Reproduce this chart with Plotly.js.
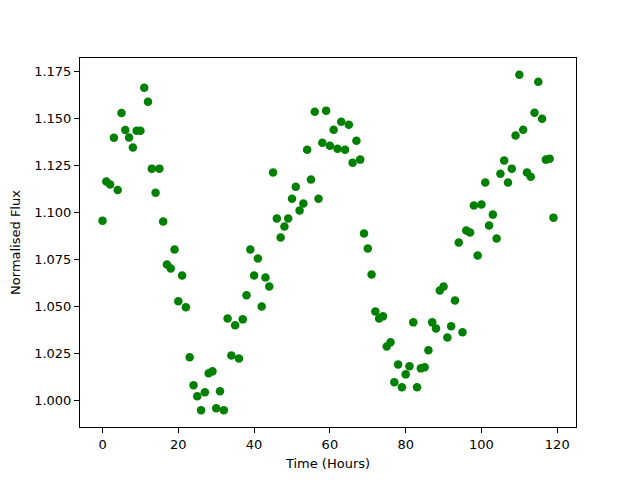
<!DOCTYPE html>
<html>
<head>
<meta charset="utf-8">
<script src="https://cdn.plot.ly/plotly-3.0.1.min.js"></script>
<style>html,body{margin:0;padding:0;background:#fff;}#chart{width:640px;height:480px;}</style>
</head>
<body>
<div id="chart"></div>
<script>
const timeHours = Array.from({length: 120}, (_, i) => i);
const normalisedFlux = [
  1.0957, 1.1165, 1.1150, 1.1399, 1.1120, 1.1530, 1.1440, 1.1400, 1.1346, 1.1436,
  1.1436, 1.1665, 1.1590, 1.1234, 1.1106, 1.1234, 1.0952, 1.0723, 1.0702, 1.0803,
  1.0527, 1.0665, 1.0495, 1.0229, 1.0080, 1.0021, 0.9947, 1.0043, 1.0144, 1.0154,
  0.9957, 1.0048, 0.9947, 1.0436, 1.0239, 1.0400, 1.0223, 1.0431, 1.0559, 1.0803,
  1.0665, 1.0755, 1.0500, 1.0654, 1.0606, 1.1213, 1.0968, 1.0867, 1.0926, 1.0968,
  1.1074, 1.1138, 1.1011, 1.1048, 1.1335, 1.1176, 1.1537, 1.1074, 1.1372, 1.1543,
  1.1356, 1.1441, 1.1340, 1.1484, 1.1335, 1.1468, 1.1266, 1.1383, 1.1282, 1.0888,
  1.0809, 1.0670, 1.0473, 1.0436, 1.0447, 1.0287, 1.0309, 1.0096, 1.0191, 1.0069,
  1.0138, 1.0181, 1.0415, 1.0069, 1.0170, 1.0176, 1.0266, 1.0415, 1.0383, 1.0585,
  1.0606, 1.0335, 1.0394, 1.0532, 1.0840, 1.0362, 1.0904, 1.0894, 1.1037, 1.0771,
  1.1043, 1.1160, 1.0931, 1.0989, 1.0862, 1.1207, 1.1277, 1.1160, 1.1234, 1.1410,
  1.1734, 1.1441, 1.1213, 1.1191, 1.1532, 1.1697, 1.1500, 1.1282, 1.1287, 1.0973
];
const xTickVals = [0, 20, 40, 60, 80, 100, 120];
const yTickVals = [1.000, 1.025, 1.050, 1.075, 1.100, 1.125, 1.150, 1.175];

function padRange(arr) {
  const mn = Math.min(...arr), mx = Math.max(...arr);
  const m = (mx - mn) * 0.05;
  return [mn - m, mx + m];
}

const font = {family: 'DejaVu Sans, sans-serif', size: 13, color: '#000'};

const trace = {
  x: timeHours,
  y: normalisedFlux,
  mode: 'markers',
  type: 'scatter',
  marker: {color: '#008000', size: 8.5, line: {width: 0}},
  hoverinfo: 'skip'
};

const axisCommon = {
  showgrid: false,
  zeroline: false,
  showline: true,
  linecolor: '#000',
  linewidth: 1,
  mirror: true,
  ticks: 'outside',
  ticklen: 5,
  tickwidth: 1,
  tickcolor: '#000',
  tickfont: font
};

const layout = {
  width: 640,
  height: 480,
  margin: {l: 80, r: 64, t: 58, b: 53, pad: 0},
  paper_bgcolor: '#fff',
  plot_bgcolor: '#fff',
  showlegend: false,
  font: font,
  xaxis: Object.assign({}, axisCommon, {
    range: padRange(timeHours),
    tickvals: xTickVals,
    ticktext: xTickVals.map(String),
    title: {text: 'Time (Hours)', font: font, standoff: 8}
  }),
  yaxis: Object.assign({}, axisCommon, {
    range: padRange(normalisedFlux),
    tickvals: yTickVals,
    ticktext: yTickVals.map(v => v.toFixed(3)),
    title: {text: 'Normalised Flux', font: font, standoff: 10}
  })
};

Plotly.newPlot('chart', [trace], layout, {displayModeBar: false, staticPlot: true});
</script>
</body>
</html>
